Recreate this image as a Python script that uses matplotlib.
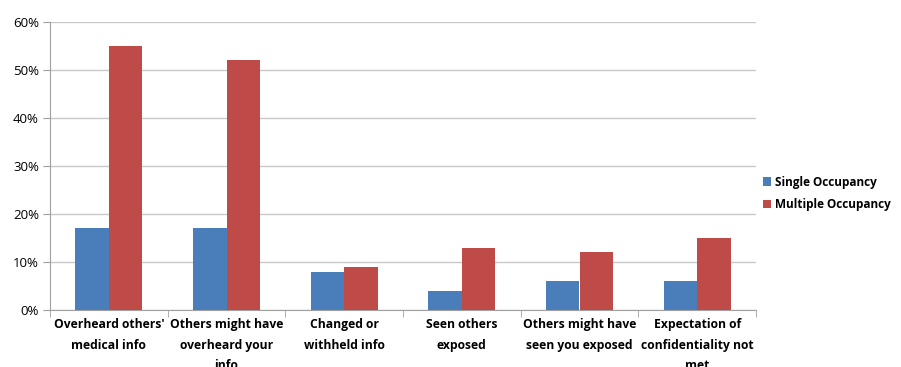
import matplotlib.pyplot as plt
import numpy as np
from matplotlib.ticker import FixedLocator, PercentFormatter

categories = [
    "Overheard others'\nmedical info",
    "Others might have\noverheard your\ninfo",
    "Changed or\nwithheld info",
    "Seen others\nexposed",
    "Others might have\nseen you exposed",
    "Expectation of\nconfidentiality not\nmet",
]
single = [17, 17, 8, 4, 6, 6]
multiple = [55, 52, 9, 13, 12, 15]

plt.rcParams['font.family'] = ['Open Sans', 'DejaVu Sans']

fig = plt.figure(figsize=(9.01, 3.67), dpi=100)
ax = fig.add_axes([50 / 901, 1 - 310 / 367, 706 / 901, 288 / 367])

x = np.arange(len(categories))
w = 0.285
ax.bar(x - w / 2, single, w, color='#4A7EBB', label='Single Occupancy', zorder=3)
ax.bar(x + w / 2, multiple, w, color='#BE4B48', label='Multiple Occupancy', zorder=3)

ax.set_xlim(-0.5, len(categories) - 0.5)
ax.set_ylim(0, 60)
ax.set_yticks(range(0, 61, 10))
ax.yaxis.set_major_formatter(PercentFormatter(decimals=0))
ax.grid(axis='y', color='#c8c8c8', linewidth=1, zorder=0)

ax.set_xticks(x)
ax.set_xticklabels(categories, fontweight='bold', fontsize=8.7, linespacing=1.75)
ax.tick_params(axis='x', which='major', length=0, pad=6, colors='black')
ax.xaxis.set_minor_locator(FixedLocator(np.arange(-0.5, len(categories), 1)))
ax.tick_params(axis='x', which='minor', length=5, color='#a0a0a0', direction='out')
ax.tick_params(axis='y', length=5, color='#a0a0a0', labelsize=9.5, pad=3)

for side in ['top', 'right']:
    ax.spines[side].set_visible(False)
for side in ['left', 'bottom']:
    ax.spines[side].set_color('#a0a0a0')

ax.legend(loc='center left', bbox_to_anchor=(1.0, 0.405), frameon=False,
          handlelength=0.7, handleheight=0.7, handletextpad=0.3,
          borderpad=0.2, borderaxespad=0.4,
          prop={'weight': 'bold', 'size': 8.5}, labelspacing=0.8)

fig.savefig('out.png', dpi=100)
